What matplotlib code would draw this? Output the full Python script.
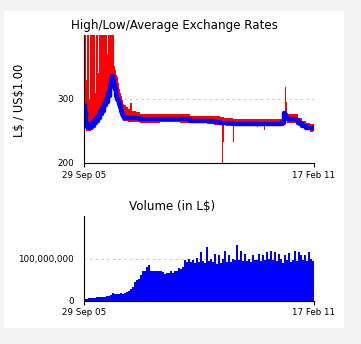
import numpy as np
import matplotlib
matplotlib.use("Agg")
import matplotlib.pyplot as plt
from matplotlib.patches import Rectangle
from matplotlib.ticker import FuncFormatter

# period covered by both charts
start_label = "29 Sep 05"
end_label = "17 Feb 11"
span_days = int((np.datetime64("2011-02-17") - np.datetime64("2005-09-29")).astype(int))

# exchange rate samples: days since 29 Sep 05, high / low / average (L$ per US$1)
rate_day = [0, 9, 17, 26, 34, 43, 51, 60, 68, 77, 86, 94, 103, 111, 120, 128,
            137, 145, 154, 162, 171, 180, 188, 197, 205, 214, 222, 231, 239, 248,
            257, 265, 274, 282, 291, 299, 308, 316, 325, 334, 342,
            359, 376, 393, 410, 445, 479, 564, 650, 735,
            821, 907, 992, 1052, 1112, 1163, 1180, 1189, 1197, 1214, 1274, 1283,
            1334, 1420, 1479, 1488, 1539, 1548, 1591, 1659, 1693, 1710, 1719, 1727,
            1736, 1762, 1813, 1830, 1864, 1898, 1933, 1958]
rate_high = [420, 420, 330, 420, 420, 300, 420, 420, 420, 420, 420, 310, 420, 420, 340, 420,
             420, 420, 420, 420, 420, 420, 420, 370, 420, 420, 420, 420, 420, 400,
             352, 345, 338, 335, 325, 315, 310, 305, 298, 292, 290,
             288, 285, 294, 282, 280, 277, 277, 277, 277,
             277, 274, 274, 273, 273, 272, 272, 272, 271, 270, 269, 269,
             269, 268, 268, 268, 268, 268, 268, 268, 268, 270, 319, 296,
             277, 277, 277, 271, 266, 263, 261, 261]
rate_low = [262, 255, 250, 250, 250, 250, 250, 251, 252, 254, 256, 258, 260, 262, 264, 266,
            268, 270, 273, 276, 280, 284, 288, 292, 296, 302, 308, 312, 315, 312,
            305, 300, 295, 292, 290, 282, 278, 272, 268, 266, 265,
            265, 264, 264, 264, 264, 263, 263, 264, 264,
            263, 262, 262, 261, 260, 259, 200, 233, 259, 258, 233, 258,
            258, 258, 257, 258, 252, 258, 258, 258, 258, 262, 265, 265,
            263, 263, 263, 258, 254, 252, 249, 250]
rate_avg = [290, 280, 262, 256, 258, 255, 260, 257, 262, 258, 266, 262, 270, 266, 274, 270,
            280, 276, 286, 282, 292, 290, 300, 296, 310, 305, 322, 330, 336, 328,
            320, 315, 305, 300, 298, 292, 288, 282, 277, 273, 271,
            271, 270, 270, 270, 270, 269, 269, 269, 269,
            268, 266, 266, 265, 264, 263, 262, 262, 262, 262, 261, 261,
            261, 261, 261, 261, 261, 261, 261, 261, 262, 278, 275, 270,
            269, 268, 267, 263, 258, 255, 254, 254]

# traded volume per ~17 day period, millions of L$
volume_m = [5, 5, 6, 7, 7, 7, 8, 10, 10, 10, 10, 11, 11, 13, 18, 15, 17, 16, 18, 17,
            18, 21, 22, 28, 33, 45, 50, 52, 62, 70, 72, 80, 85, 70, 70, 72, 70, 72, 72, 68,
            64, 67, 65, 70, 67, 72, 70, 78, 76, 80, 98, 92, 100, 92, 98, 90, 102, 92, 115, 95,
            90, 128, 95, 100, 92, 112, 88, 110, 90, 100, 118, 92, 108, 92, 100, 96, 132, 98, 118, 95,
            112, 94, 100, 92, 110, 98, 96, 112, 95, 108, 98, 115, 100, 118, 96, 116, 95, 112, 100, 90,
            108, 96, 114, 92, 98, 118, 95, 115, 110, 98, 110, 95, 115, 100, 95]

W, H = 361, 344
fig = plt.figure(figsize=(W / 100, H / 100), dpi=100, facecolor="#f4f4f4")
fig.patches.append(Rectangle((4 / W, 1 - 328 / H), 340 / W, 317 / H, transform=fig.transFigure,
                             figure=fig, facecolor="white", edgecolor="none", zorder=-10))

fs = 6.3
grid_style = dict(color="#c0c0c0", lw=0.72, ls=(0, (2, 3.7)), zorder=0)


def style_axis(ax):
    for s in ("top", "right"):
        ax.spines[s].set_visible(False)
    for s in ("left", "bottom"):
        ax.spines[s].set_linewidth(0.8)
        ax.spines[s].set_zorder(5)
    ax.set_xlim(0, span_days)
    ax.set_xticks([0, span_days], [start_label, end_label])
    ax.tick_params(axis="x", length=3, width=0.8, direction="out", pad=2.5, labelsize=fs)
    ax.tick_params(axis="y", length=0, pad=7, labelsize=fs)
    ax.set_facecolor("none")


# exchange rates: red high-low range per sample, blue average on top
ax1 = fig.add_axes([84 / W, 1 - 163 / H, 230 / W, 128 / H])
days = np.array(rate_day)
widths = np.diff(days, append=span_days)
hi = np.array(rate_high)
lo = np.array(rate_low)
ax1.bar(days, hi - lo, bottom=lo, width=widths, align="edge", color="#ff0000", lw=0, zorder=2)
ax1.plot(np.append(days, span_days), np.append(rate_avg, rate_avg[-1]), drawstyle="steps-post",
         color="#0000ff", lw=3.2, zorder=3)
ax1.axhline(300, **grid_style)
ax1.set_ylim(200, 400)
ax1.set_yticks([200, 300])
style_axis(ax1)

# volume
ax2 = fig.add_axes([84 / W, 1 - 300.7 / H, 230 / W, 84.7 / H])
bucket = span_days / len(volume_m)
vol_x = np.arange(len(volume_m)) * bucket
ax2.bar(vol_x, np.array(volume_m) * 1e6, width=bucket, align="edge", color="#0000ff", lw=0, zorder=2)
ax2.axhline(1e8, **grid_style)
ax2.set_ylim(0, 2.02e8)
ax2.set_yticks([0, 1e8])
ax2.yaxis.set_major_formatter(FuncFormatter(lambda v, p: f"{v:,.0f}"))
style_axis(ax2)

fig.text(174 / W, 1 - 25 / H, "High/Low/Average Exchange Rates", ha="center", va="center", fontsize=8.6)
fig.text(172.5 / W, 1 - 207 / H, r"Volume (in L\$)", ha="center", va="center", fontsize=8.6)
fig.text(20 / W, 1 - 100 / H, r"L\$ / US\$1.00", ha="center", va="center", rotation=90, fontsize=8.3)

plt.savefig("out.png", dpi=100, facecolor=fig.get_facecolor())
